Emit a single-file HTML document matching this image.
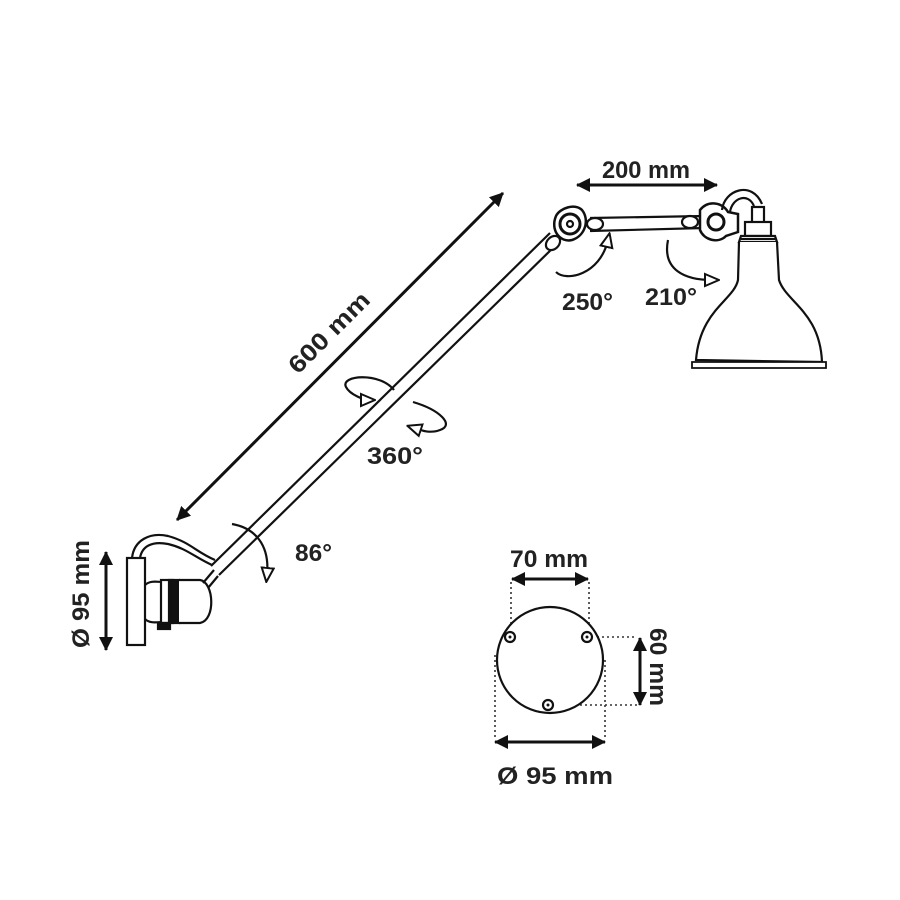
<!DOCTYPE html>
<html><head><style>html,body{margin:0;padding:0;background:#fff}svg{display:block}
text{font-family:"Liberation Sans",sans-serif;font-weight:bold;fill:#222}</style></head>
<body>
<svg width="900" height="900" viewBox="0 0 900 900" xmlns="http://www.w3.org/2000/svg">
<defs>
<marker id="ah" markerWidth="14" markerHeight="14" refX="13" refY="7" orient="auto-start-reverse" markerUnits="userSpaceOnUse" viewBox="0 0 14 14"><path d="M0,0 L14,7 L0,14 z" fill="#111"/></marker>
<marker id="oh" markerWidth="16" markerHeight="16" refX="8" refY="8" orient="auto" markerUnits="userSpaceOnUse" viewBox="0 0 16 16"><path d="M1,2 L15,8 L1,14 z" fill="#fff" stroke="#111" stroke-width="2"/></marker>
</defs>
<g stroke="#111" fill="none" stroke-width="2.2">
<rect x="127" y="558" width="18" height="87" fill="#fff"/>
<path d="M132,558 C134,540 150,532 168,536 C190,542 196,552 215,560"/>
<path d="M140,558 C142,546 152,541 168,544 C186,548 196,558 212,565"/>
<path d="M145,585 C150,580 158,582 162,582 L162,622 C158,622 150,624 145,619"/>
<rect x="161" y="580" width="12" height="43" fill="#fff"/>
<rect x="169" y="580" width="10" height="43" fill="#111"/>
<path d="M179,580 L200,580 C214,582 216,620 200,623 L179,623" fill="#fff"/>
<rect x="158" y="623" width="12" height="6" fill="#111"/>
<path d="M203,583 L214,570 M208,588 L218,576"/>
<path d="M211,566 L550,233"/>
<path d="M219,575 L558,243"/>
<ellipse cx="553" cy="243" rx="8" ry="6" transform="rotate(-45 553 243)" fill="#fff"/>
<path d="M556,216 C560,208 575,203 582,210 C590,220 585,236 572,240 C560,243 550,230 556,216z" fill="#fff" stroke-width="2.5"/>
<circle cx="570" cy="224" r="10" fill="#fff" stroke-width="3"/>
<circle cx="570" cy="224" r="3" fill="#fff"/>
<path d="M590,218 L705,216"/>
<path d="M590,231 L705,228"/>
<ellipse cx="595" cy="224" rx="8" ry="6" fill="#fff"/>
<ellipse cx="690" cy="222" rx="8" ry="6" fill="#fff"/>
<path d="M700,210 C708,200 722,202 728,212 L738,214 L738,232 L726,236 C718,244 704,240 700,230 z" fill="#fff" stroke-width="2.5"/>
<circle cx="716" cy="222" r="8" fill="#fff" stroke-width="3"/>
<path d="M722,210 C724,190 752,180 762,204"/>
<path d="M730,212 C732,198 748,192 754,206"/>
<rect x="752" y="207" width="12" height="16" fill="#fff"/>
<rect x="745" y="222" width="26" height="14" fill="#fff"/>
<path d="M741,236 L775,236 L777,242 L739,242 z" fill="#fff"/>
<path d="M741,239 L775,239" stroke-width="2"/>
<path d="M739,242 L738,280 C734,300 700,310 696,360 L822,362 C820,312 786,302 779,280 L777,242" fill="#fff"/>
<path d="M692,362 L826,362 L826,368 L692,368 z" fill="#fff" stroke-width="1.8"/>
</g>
<g stroke="#111" stroke-width="3" fill="none" marker-start="url(#ah)" marker-end="url(#ah)">
<line x1="177" y1="520" x2="503" y2="193"/>
<line x1="577" y1="185" x2="717" y2="185"/>
<line x1="106" y1="552" x2="106" y2="650"/>
<line x1="512" y1="579" x2="588" y2="579"/>
<line x1="495" y1="742" x2="605" y2="742"/>
<line x1="640" y1="638" x2="640" y2="705"/>
</g>
<g stroke="#111" stroke-width="2.2" fill="none" marker-end="url(#oh)">
<path d="M556,272 C566,282 600,275 608,240"/>
<path d="M668,240 C662,270 685,280 712,280"/>
<path d="M394,390 C380,372 340,375 346,387 C350,395 365,400 368,400"/>
<path d="M413,402 C440,410 455,425 440,430 C430,434 420,430 414,428"/>
<path d="M232,524 C255,528 270,545 267,575"/>
</g>
<g stroke="#333" stroke-width="1.6" stroke-dasharray="2,3" fill="none">
<line x1="511" y1="582" x2="511" y2="632"/>
<line x1="589" y1="582" x2="589" y2="632"/>
<line x1="495" y1="655" x2="495" y2="740"/>
<line x1="605" y1="660" x2="605" y2="740"/>
<line x1="597" y1="637" x2="637" y2="637"/>
<line x1="555" y1="705" x2="637" y2="705"/>
</g>
<g stroke="#111" stroke-width="2.2" fill="#fff">
<circle cx="550" cy="660" r="53"/>
<circle cx="510" cy="637" r="5"/>
<circle cx="587" cy="637" r="5"/>
<circle cx="548" cy="705" r="5"/>
</g>
<g fill="#111"><circle cx="510" cy="637" r="1.5"/><circle cx="587" cy="637" r="1.5"/><circle cx="548" cy="705" r="1.5"/></g>
<g font-size="24" lengthAdjust="spacingAndGlyphs">
<text x="602" y="178" textLength="88" lengthAdjust="spacingAndGlyphs">200 mm</text>
<text x="562" y="310" textLength="51" lengthAdjust="spacingAndGlyphs">250°</text>
<text x="645" y="305" textLength="52" lengthAdjust="spacingAndGlyphs">210°</text>
<text x="367" y="464" textLength="56" lengthAdjust="spacingAndGlyphs">360°</text>
<text x="295" y="561" textLength="37" lengthAdjust="spacingAndGlyphs">86°</text>
<text x="510" y="567" textLength="78" lengthAdjust="spacingAndGlyphs">70 mm</text>
<text x="497" y="784" textLength="116" lengthAdjust="spacingAndGlyphs">Ø 95 mm</text>
<text transform="translate(298,375) rotate(-45)" textLength="104" lengthAdjust="spacingAndGlyphs">600 mm</text>
<text transform="translate(89,648) rotate(-90)" textLength="108" lengthAdjust="spacingAndGlyphs">Ø 95 mm</text>
<text transform="translate(650,628) rotate(90)" textLength="78" lengthAdjust="spacingAndGlyphs">60 mm</text>
</g>
</svg>
</body></html>
